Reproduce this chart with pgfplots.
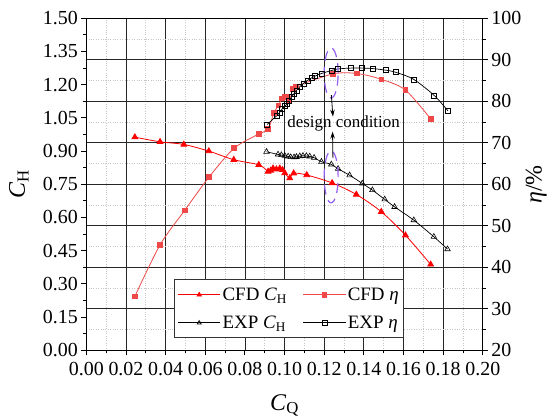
\documentclass[border=0pt]{standalone}
\usepackage{fontspec}
\setmainfont{Liberation Serif}
\usepackage{pgfplots}
\pgfplotsset{compat=1.18}
\usetikzlibrary{arrows.meta}

\definecolor{cfdch}{RGB}{255,0,0}
\definecolor{cfdeta}{RGB}{238,72,72}
\definecolor{ellcol}{RGB}{150,95,240}

\pgfplotsset{
  base/.style={
    scale only axis, width=396.5bp, height=332bp,
    xmin=0, xmax=0.2,
    xtick={0,0.02,0.04,0.06,0.08,0.1,0.12,0.14,0.16,0.18,0.2},
    minor x tick num=1,
    scaled x ticks=false, scaled y ticks=false,
    /pgf/number format/assume math mode=true,
    tick label style={font=\fontsize{20}{22}\selectfont},
    axis line style={line width=1.1pt},
    every tick/.style={black, line width=0.9pt},
    major tick length=5bp, minor tick length=3bp,
    tick align=outside,
  },
  cfdCH/.style={cfdch, line width=0.8pt, smooth, tension=0.5, mark=triangle*, mark size=3.3bp, mark options={solid, fill=cfdch}},
  cfdETA/.style={cfdeta, line width=0.8pt, smooth, tension=0.5, mark=square*, mark size=2.4bp, mark options={solid, fill=cfdeta}},
  expCH/.style={black, line width=0.7pt, smooth, tension=0.5, mark=triangle, mark size=3.2bp, mark options={solid, fill=white, line width=0.6pt}},
  expETA/.style={black, line width=0.7pt, smooth, tension=0.5, mark=square, mark size=2.5bp, mark options={solid, fill=white, line width=0.6pt}},
}

\begin{document}
\begin{tikzpicture}
\useasboundingbox (-86.3bp,-69.7bp) rectangle (462.7bp,350.3bp);

% grid axis (eta scale)
\begin{axis}[base, ymin=20, ymax=100,
  ytick={20,30,40,50,60,70,80,90,100}, minor y tick num=1,
  grid=both,
  major grid style={black!85, line width=0.8pt},
  minor grid style={gray!45, dotted, line width=0.7pt},
  xticklabels={}, yticklabels={},
  major tick length=0pt, minor tick length=0pt,
  axis line style={draw=none}]
\end{axis}

% left axis: C_H
\begin{axis}[base, ymin=0, ymax=1.5,
  ytick={0,0.15,0.3,0.45,0.6,0.75,0.9,1.05,1.2,1.35,1.5},
  minor y tick num=1,
  xtick pos=left, ytick pos=left,
  xticklabel style={yshift=-3bp, /pgf/number format/.cd, fixed, fixed zerofill, precision=2},
  yticklabel style={/pgf/number format/.cd, fixed, fixed zerofill, precision=2},
  xlabel={\textit{C}\textsubscript{Q}},
  ylabel={\textit{C}\textsubscript{H}},
  label style={font=\fontsize{24}{26}\selectfont},
  xlabel style={at={(axis description cs:0.5,-0.166)}, anchor=center},
  ylabel style={at={(axis description cs:-0.17,0.5)}, anchor=center},
]
\addplot[cfdCH] coordinates {
(0.0245,0.963) (0.0372,0.942) (0.0492,0.930) (0.0618,0.900) (0.0744,0.861)
(0.0870,0.838) (0.0917,0.808) (0.0930,0.812) (0.0942,0.822) (0.0959,0.818)
(0.0976,0.822) (0.0990,0.815) (0.1001,0.801) (0.1026,0.778) (0.1046,0.800)
(0.1112,0.792) (0.1240,0.756) (0.1362,0.704) (0.1488,0.626) (0.1610,0.520)
(0.1737,0.388)};
\addplot[expCH] coordinates {
(0.0909,0.897) (0.0967,0.885) (0.0984,0.882) (0.1001,0.879) (0.1018,0.876)
(0.1031,0.873) (0.1048,0.872) (0.1060,0.874) (0.1077,0.877) (0.1093,0.879)
(0.1110,0.878) (0.1127,0.876) (0.1149,0.870) (0.1186,0.852) (0.1236,0.840)
(0.1270,0.820) (0.1328,0.791) (0.1392,0.754) (0.1443,0.724) (0.1505,0.682)
(0.1555,0.648) (0.1652,0.588) (0.1753,0.513) (0.1822,0.457)};
\end{axis}

% right axis: eta
\begin{axis}[base, ymin=20, ymax=100,
  axis y line*=right, axis x line=none,
  ytick={20,30,40,50,60,70,80,90,100}, minor y tick num=1,
  ylabel={\textit{η}/\%},
  ylabel style={font=\fontsize{24}{26}\selectfont, at={(axis description cs:1.135,0.5)}, anchor=center},
  legend columns=2,
  legend cell align=left,
  legend style={at={(axis description cs:0.222,0.036)}, anchor=south west,
    draw=black!80, line width=1pt, fill=white,
    font=\fontsize{19}{21}\selectfont,
    inner xsep=3bp, inner ysep=6bp,
    row sep=10bp,
    /tikz/every even column/.append style={column sep=14bp}},
  legend image code/.code={\draw[mark repeat=2,mark phase=2] plot coordinates {(0bp,0bp)(21bp,0bp)(42bp,0bp)};},
]
\addlegendimage{cfdch, line width=0.8pt, mark=triangle*, mark size=2.5bp, mark options={fill=cfdch}}
\addlegendentry{CFD \textit{C}\textsubscript{H}}
\addplot[cfdETA] coordinates {
(0.0245,33.0) (0.0372,45.4) (0.0496,53.7) (0.0620,61.8) (0.0746,68.7)
(0.0869,72.1) (0.0917,73.3) (0.0946,77.2) (0.0969,79.0) (0.0987,80.7)
(0.1000,81.1) (0.1010,81.2) (0.1023,80.1) (0.1043,83.0) (0.1058,83.6)
(0.1244,86.6) (0.1365,86.7) (0.1488,85.3) (0.1610,82.7) (0.1738,75.7)};
\addlegendentry{CFD \textit{η}}
\addlegendimage{black, line width=0.7pt, mark=triangle, mark size=2.3bp, mark options={fill=white}}
\addlegendentry{EXP \textit{C}\textsubscript{H}}
\addplot[expETA] coordinates {
(0.0912,74.4) (0.0960,76.5) (0.0975,77.3) (0.0987,78.1) (0.1001,78.8)
(0.1012,79.3) (0.1023,80.1) (0.1035,81.0) (0.1047,81.8) (0.1060,82.6)
(0.1077,83.5) (0.1095,84.3) (0.1115,85.0) (0.1135,85.6) (0.1155,86.1)
(0.1186,86.7) (0.1236,87.4) (0.1270,87.8) (0.1334,88.0) (0.1392,88.0)
(0.1443,87.9) (0.1510,87.5) (0.1560,87.0) (0.1651,85.3) (0.1755,81.4)
(0.1824,77.7)};
\addlegendentry{EXP \textit{η}}

\draw[ellcol, line width=1.2pt, dash pattern=on 10bp off 6bp] (axis cs:0.1235,86.8) ellipse [x radius=7bp, y radius=25bp];
\draw[ellcol, line width=1.2pt, dash pattern=on 10bp off 6bp] (axis cs:0.1235,61.8) ellipse [x radius=7bp, y radius=26bp];
\draw[-{Stealth[length=7bp,width=4.5bp]}, line width=0.8pt] (axis cs:0.1236,81.5) -- (axis cs:0.1244,76.3);
\draw[-{Stealth[length=7bp,width=4.5bp]}, line width=0.8pt] (axis cs:0.1244,66.3) -- (axis cs:0.1242,72.7);
\node[font=\fontsize{17}{19}\selectfont] at (axis cs:0.1298,74.6) {design condition};
\end{axis}
\end{tikzpicture}
\end{document}
